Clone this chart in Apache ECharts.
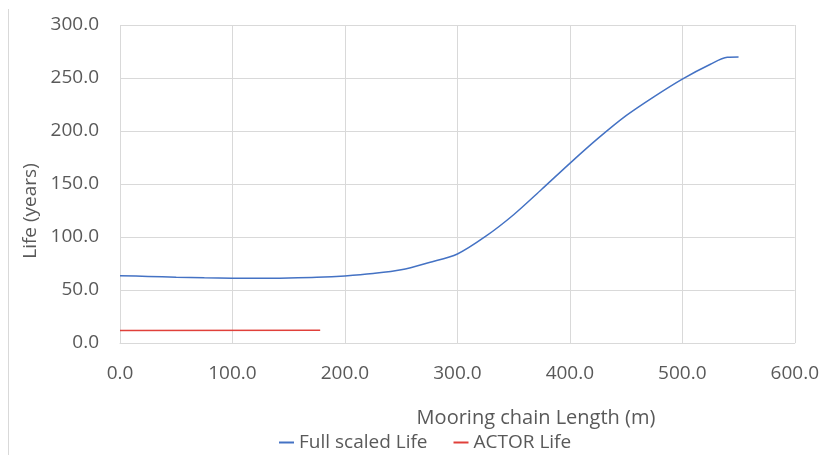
<!DOCTYPE html>
<html>
<head>
<meta charset="utf-8">
<script src="https://cdn.jsdelivr.net/npm/echarts@6/dist/echarts.min.js"></script>
<style>
  html, body { margin: 0; padding: 0; background: #ffffff; }
  #chart { width: 822px; height: 455px; }
</style>
</head>
<body>
<div id="chart"></div>
<script>
// Chain length (m) against fatigue life (years)
const fullLengths = [0, 25, 50, 75, 100, 125, 150, 175, 200, 225, 250, 275, 300,
                     325, 350, 375, 400, 425, 450, 475, 500, 525, 540, 550];
const fullLife    = [63.5, 62.8, 62.0, 61.5, 61.2, 61.1, 61.4, 62.0, 63.3, 65.5, 69.0, 76.0, 84.0,
                     100.5, 121.0, 145.0, 169.5, 193.0, 214.5, 232.5, 249.0, 263.0, 269.5, 269.8];

const actorLengths = [0, 178];
const actorLife    = [11.8, 12.0];

const xTicks = { min: 0, max: 600, step: 100 };
const yTicks = { min: 0, max: 300, step: 50 };

const seriesNames = ['Full scaled Life', 'ACTOR Life'];
const xTitle = 'Mooring chain Length (m)';
const yTitle = 'Life (years)';

const FONT = '"Open Sans", "Noto Sans", sans-serif';
const TEXT = '#595959';
const GRID = '#d9d9d9';

const pairs = (xs, ys) => xs.map((x, i) => [x, ys[i]]);

const chart = echarts.init(document.getElementById('chart'), null, { renderer: 'canvas' });
chart.setOption({
  animation: false,
  backgroundColor: '#ffffff',
  grid: { left: 120, right: 23, top: 25, bottom: 112, containLabel: false },
  xAxis: {
    type: 'value',
    min: xTicks.min, max: xTicks.max, interval: xTicks.step,
    axisLine: { show: true, lineStyle: { color: GRID, width: 1 } },
    axisTick: { show: false },
    splitLine: { show: true, lineStyle: { color: GRID, width: 1 } },
    axisLabel: {
      color: TEXT, fontFamily: FONT, fontSize: 19, margin: 21,
      formatter: v => v.toFixed(1)
    }
  },
  yAxis: {
    type: 'value',
    min: yTicks.min, max: yTicks.max, interval: yTicks.step,
    axisLine: { show: false },
    axisTick: { show: false },
    splitLine: { show: true, lineStyle: { color: GRID, width: 1 } },
    axisLabel: {
      color: TEXT, fontFamily: FONT, fontSize: 19, margin: 21,
      formatter: v => v.toFixed(1)
    }
  },
  legend: {
    left: 274, top: 428,
    itemWidth: 15, itemHeight: 2, itemGap: 26,
    icon: 'rect',
    textStyle: { color: TEXT, fontFamily: FONT, fontSize: 19 },
    data: seriesNames
  },
  series: [
    {
      name: seriesNames[0],
      type: 'line',
      data: pairs(fullLengths, fullLife),
      smooth: 0.3,
      showSymbol: false,
      lineStyle: { color: '#4472c4', width: 1.5 },
      itemStyle: { color: '#4472c4' }
    },
    {
      name: seriesNames[1],
      type: 'line',
      data: pairs(actorLengths, actorLife),
      showSymbol: false,
      lineStyle: { color: '#e0403a', width: 1.5 },
      itemStyle: { color: '#e0403a' }
    }
  ],
  graphic: [
    {
      type: 'line',
      shape: { x1: 8.5, y1: 9, x2: 8.5, y2: 455 },
      style: { stroke: GRID, lineWidth: 1 }
    },
    {
      type: 'text',
      x: 31, y: 211, rotation: Math.PI / 2,
      style: {
        text: yTitle, fill: TEXT, font: '19px ' + FONT,
        align: 'center', verticalAlign: 'middle'
      }
    },
    {
      type: 'text',
      x: 536, y: 418,
      style: {
        text: xTitle, fill: TEXT, font: '20px ' + FONT,
        align: 'center', verticalAlign: 'middle'
      }
    }
  ]
});
</script>
</body>
</html>
